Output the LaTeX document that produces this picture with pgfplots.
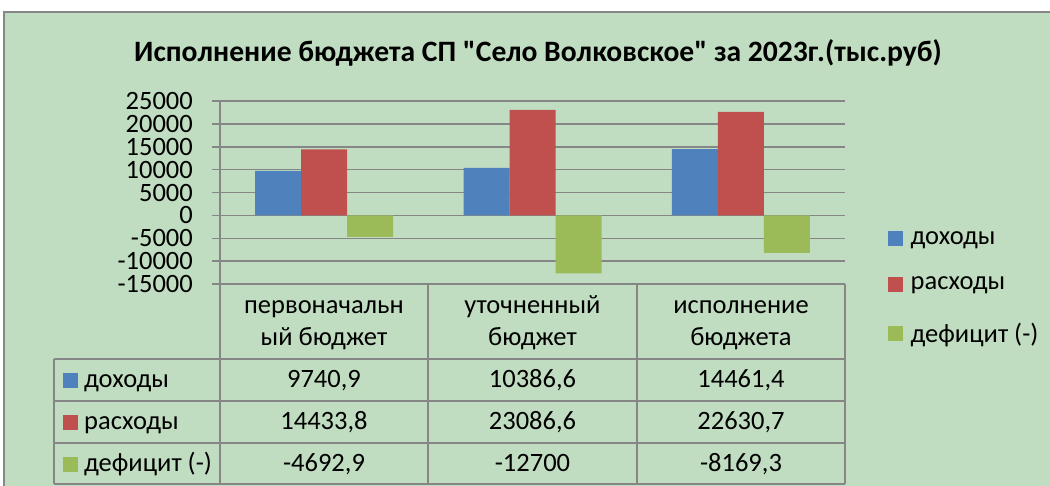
\documentclass[border=0pt]{standalone}
\usepackage{pgfplots}
\pgfplotsset{compat=1.18}
\usepackage{fontspec}
\setmainfont{Carlito}[Ligatures=TeXOff]
\definecolor{bgc}{RGB}{193,221,193}
\definecolor{gridc}{RGB}{134,134,134}
\definecolor{cblue}{RGB}{79,129,189}
\definecolor{cred}{RGB}{192,80,77}
\definecolor{cgreen}{RGB}{155,187,89}
\newcommand{\tf}{\fontsize{26.5bp}{32bp}\selectfont}
\begin{document}
\begin{tikzpicture}
\path[use as bounding box] (0bp,0bp) rectangle (1050bp,-486bp);
\fill[white] (0bp,0bp) rectangle (1050bp,-486bp);
\fill[bgc] (4bp,-12bp) rectangle (1050bp,-486bp);
\draw[gridc, line width=1.5bp] (4bp,-486bp) -- (4bp,-12bp) -- (1050bp,-12bp);
\node[font=\fontsize{29.6bp}{34bp}\selectfont\bfseries] at (538bp,-53bp) {Исполнение бюджета СП "Село Волковское" за 2023г.(тыс.руб)};
\begin{axis}[
 at={(220bp,-284bp)}, anchor=south west,
 scale only axis, width=625bp, height=183bp,
 xmin=-0.5, xmax=2.5, ymin=-15000, ymax=25000,
 ytick={-15000,-10000,...,25000},
 scaled y ticks=false,
 xtick=\empty,
 ymajorgrids, grid style={gridc, line width=1.5bp},
 axis x line=none, axis y line*=left,
 axis line style={gridc, line width=1.5bp},
 tick align=outside, major tick length=8bp,
 ytick style={gridc, line width=1.5bp},
 yticklabel style={font=\tf, anchor=east, inner sep=0pt, xshift=-19bp, text height=17bp, text depth=0bp},
 /pgf/number format/assume math mode=true,
 /pgf/number format/set thousands separator={},
 ybar=0pt, bar width=46bp,
 clip=false,
 legend style={at={(axis description cs:1.068,0.30)}, anchor=north west, draw=none, fill=none, font=\tf, row sep=27.5bp, inner sep=0pt,
   /tikz/every odd column/.append style={column sep=6bp}},
 legend cell align=left,
 legend image code/.code={\fill[#1] (0bp,-7.5bp) rectangle (15bp,7.5bp);},
]
\addplot[fill=cblue, draw=none] coordinates {(0,9740.9) (1,10386.6) (2,14461.4)};
\addplot[fill=cred, draw=none] coordinates {(0,14433.8) (1,23086.6) (2,22630.7)};
\addplot[fill=cgreen, draw=none] coordinates {(0,-4692.9) (1,-12700) (2,-8169.3)};
\legend{доходы, расходы, дефицит (-)}
\end{axis}
% data table
\begin{scope}[gridc, line width=1.5bp]
\draw (220bp,-284bp) -- (845bp,-284bp);
\draw (54bp,-359bp) -- (845bp,-359bp);
\draw (54bp,-401bp) -- (845bp,-401bp);
\draw (54bp,-443bp) -- (845bp,-443bp);
\draw (54bp,-484bp) -- (845bp,-484bp);
\draw (54bp,-359bp) -- (54bp,-484bp);
\draw (220bp,-284bp) -- (220bp,-484bp);
\draw (428bp,-284bp) -- (428bp,-484bp);
\draw (637bp,-284bp) -- (637bp,-484bp);
\draw (845bp,-284bp) -- (845bp,-484bp);
\end{scope}
\begin{scope}[every node/.style={font=\tf, anchor=base, inner sep=0pt}]
\node at (324bp,-313bp) {первоначальн};
\node at (324bp,-345bp) {ый бюджет};
\node at (532.5bp,-313bp) {уточненный};
\node at (532.5bp,-345bp) {бюджет};
\node at (741bp,-313bp) {исполнение};
\node at (741bp,-345bp) {бюджета};
\node at (324bp,-387bp) {9740,9};
\node at (532.5bp,-387bp) {10386,6};
\node at (741bp,-387bp) {14461,4};
\node at (324bp,-429bp) {14433,8};
\node at (532.5bp,-429bp) {23086,6};
\node at (741bp,-429bp) {22630,7};
\node at (324bp,-471bp) {-4692,9};
\node at (532.5bp,-471bp) {-12700};
\node at (741bp,-471bp) {-8169,3};
\node[anchor=base west] at (84bp,-387bp) {доходы};
\node[anchor=base west] at (84bp,-429bp) {расходы};
\node[anchor=base west] at (84bp,-471bp) {дефицит (-)};
\end{scope}
\fill[cblue] (63bp,-372.5bp) rectangle (78bp,-387.5bp);
\fill[cred] (63bp,-414.5bp) rectangle (78bp,-429.5bp);
\fill[cgreen] (63bp,-456.5bp) rectangle (78bp,-471.5bp);
\end{tikzpicture}
\end{document}
